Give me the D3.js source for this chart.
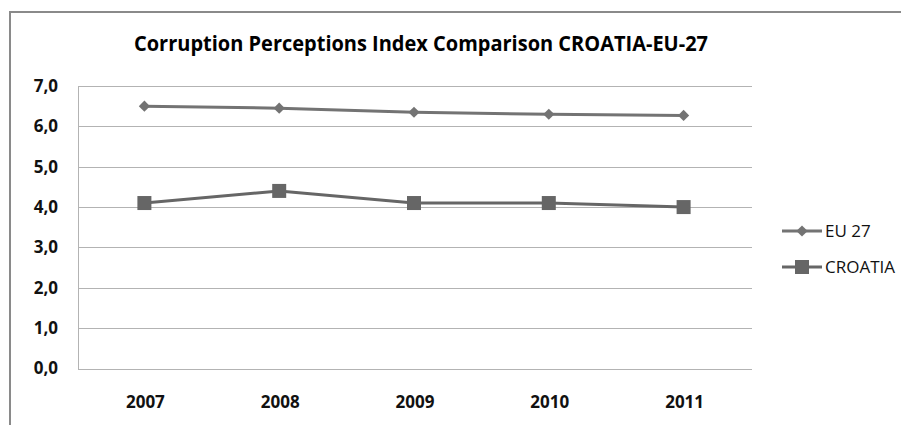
<!DOCTYPE html>
<html>
<head>
<meta charset="utf-8">
<script src="https://cdn.jsdelivr.net/npm/d3@7"></script>
<style>
  html, body { margin: 0; padding: 0; background: #fff; }
  svg { display: block; }
  text { font-family: "Open Sans", "Liberation Sans", sans-serif; }
</style>
</head>
<body>
<script>
const categories = ["2007", "2008", "2009", "2010", "2011"];
const eu27 = [6.5, 6.45, 6.35, 6.3, 6.27];
const croatia = [4.1, 4.4, 4.1, 4.1, 4.0];
const seriesNames = ["EU 27", "CROATIA"];
const yTicks = [0, 1, 2, 3, 4, 5, 6, 7];
const titleText = "Corruption Perceptions Index Comparison CROATIA-EU-27";

const W = 901, H = 425;
const svg = d3.select("body").append("svg").attr("width", W).attr("height", H);

// outer chart frame (extends beyond right/bottom of the view)
svg.append("path")
  .attr("d", "M10,430 L10,12 L910,12")
  .attr("fill", "none").attr("stroke", "#8a8a8a").attr("stroke-width", 2);

const plot = { left: 78, right: 752, top: 86, bottom: 368.5 };

const x = d3.scaleBand().domain(categories).range([plot.left, plot.right]);
const y = d3.scaleLinear().domain([0, 7]).range([plot.bottom, plot.top]);

// gridlines
svg.append("g").selectAll("line").data(yTicks).join("line")
  .attr("x1", plot.left).attr("x2", plot.right)
  .attr("y1", d => Math.round(y(d)) + 0.5).attr("y2", d => Math.round(y(d)) + 0.5)
  .attr("stroke", "#b3b3b3").attr("stroke-width", 1);

// left axis line
svg.append("line")
  .attr("x1", plot.left + 0.5).attr("x2", plot.left + 0.5)
  .attr("y1", plot.top).attr("y2", plot.bottom + 1)
  .attr("stroke", "#b3b3b3").attr("stroke-width", 1);

// y axis
const yAxis = d3.axisLeft(y).tickValues(yTicks).tickSize(0).tickPadding(20)
  .tickFormat(d => d3.format(".1f")(d).replace(".", ","));
const gy = svg.append("g").attr("transform", `translate(${plot.left},0)`).call(yAxis);
gy.select(".domain").remove();
gy.selectAll("text").attr("font-size", 17).attr("font-weight", "bold").attr("fill", "#111");

// x axis
const xAxis = d3.axisBottom(x).tickSize(0).tickPadding(27);
const gx = svg.append("g").attr("transform", `translate(0,${plot.bottom})`).call(xAxis);
gx.select(".domain").remove();
gx.selectAll("text").attr("font-size", 17).attr("font-weight", "bold").attr("fill", "#111");

const cx = d => x(d) + x.bandwidth() / 2 - 1;
const line = d3.line().x((d, i) => cx(categories[i])).y(d => y(d));

const euColor = "#737373", hrColor = "#666666";

// EU line + diamonds
svg.append("path").datum(eu27).attr("d", line)
  .attr("fill", "none").attr("stroke", euColor).attr("stroke-width", 3);
const diamond = d3.symbol().type(d3.symbolDiamond2).size(80);
svg.append("g").selectAll("path").data(eu27).join("path")
  .attr("d", diamond)
  .attr("transform", (d, i) => `translate(${cx(categories[i])},${y(d)})`)
  .attr("fill", euColor);

// Croatia line + squares
svg.append("path").datum(croatia).attr("d", line)
  .attr("fill", "none").attr("stroke", hrColor).attr("stroke-width", 3);
svg.append("g").selectAll("rect").data(croatia).join("rect")
  .attr("x", (d, i) => cx(categories[i]) - 7)
  .attr("y", d => y(d) - 7)
  .attr("width", 14).attr("height", 14)
  .attr("fill", hrColor);

// title
svg.append("text")
  .attr("x", 421).attr("y", 51)
  .attr("text-anchor", "middle")
  .attr("font-size", 22).attr("font-weight", "bold").attr("fill", "#000")
  .attr("textLength", 574).attr("lengthAdjust", "spacingAndGlyphs")
  .text(titleText);

// legend
const legend = svg.append("g");
const legY = [231, 267];
seriesNames.forEach((name, i) => {
  const g = legend.append("g");
  const col = i === 0 ? euColor : hrColor;
  g.append("line").attr("x1", 782).attr("x2", 822).attr("y1", legY[i]).attr("y2", legY[i])
    .attr("stroke", col).attr("stroke-width", 3);
  if (i === 0) {
    g.append("path").attr("d", diamond).attr("transform", `translate(802,${legY[i]})`).attr("fill", col);
  } else {
    g.append("rect").attr("x", 795).attr("y", legY[i] - 7).attr("width", 14).attr("height", 14).attr("fill", col);
  }
  g.append("text").attr("x", 825).attr("y", legY[i]).attr("dy", "0.35em")
    .attr("font-size", 17).attr("fill", "#111").text(name);
});
</script>
</body>
</html>
